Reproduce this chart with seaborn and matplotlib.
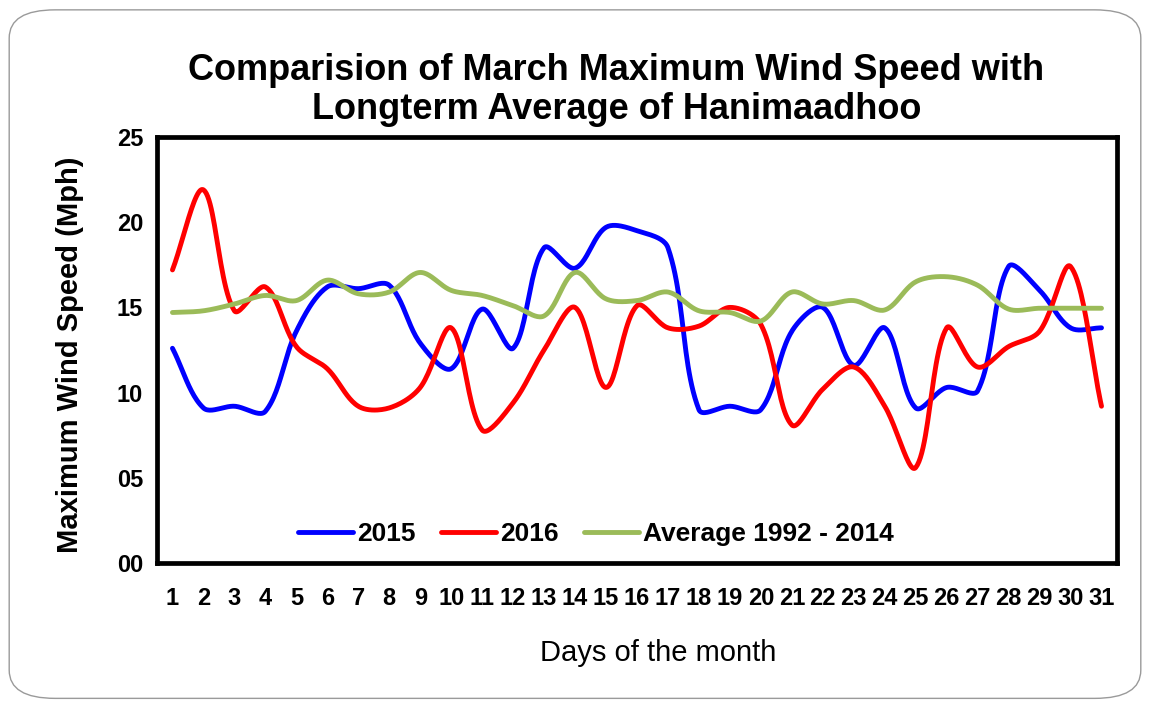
import numpy as np
import pandas as pd
import matplotlib.pyplot as plt
import seaborn as sns
from matplotlib.patches import FancyBboxPatch

days = list(range(1, 32))
wind_2015 = [12.6, 9.1, 9.2, 8.9, 13.6, 16.2, 16.1, 16.3, 12.9, 11.4,
             14.9, 12.6, 18.5, 17.3, 19.7, 19.5, 18.5, 9.0, 9.2, 9.0,
             13.6, 15.0, 11.6, 13.8, 9.1, 10.3, 10.1, 17.4, 16.0, 13.8, 13.8]
wind_2016 = [17.2, 21.9, 14.8, 16.2, 12.7, 11.4, 9.2, 9.1, 10.3, 13.8,
             7.8, 9.4, 12.5, 15.0, 10.3, 15.1, 13.8, 13.9, 15.0, 14.0,
             8.1, 10.2, 11.5, 9.2, 5.6, 13.8, 11.5, 12.7, 13.6, 17.4, 9.2]
avg_1992_2014 = [14.7, 14.8, 15.2, 15.7, 15.4, 16.6, 15.8, 15.9, 17.05, 16.0,
                 15.7, 15.1, 14.5, 17.05, 15.5, 15.4, 15.9, 14.8, 14.7, 14.2,
                 15.9, 15.2, 15.4, 14.85, 16.5, 16.8, 16.3, 14.9, 14.95, 14.95, 14.95]
series_names = ["2015", "2016", "Average 1992 - 2014"]
colors = ["#0000FF", "#FF0000", "#9BBB59"]
y_ticks = [0, 5, 10, 15, 20, 25]
y_tick_labels = ["00", "05", "10", "15", "20", "25"]


def smooth_curve(x, y, steps=24, sx=31.0, sy=17.0):
    # Excel-like smoothed line: Bezier with tangents scaled by segment length
    x = np.asarray(x, float)
    y = np.asarray(y, float)
    pts = np.column_stack([x, y])
    scale = np.array([sx, sy])
    n = len(pts)
    seg = np.linalg.norm(np.diff(pts * scale, axis=0), axis=1)
    t = np.linspace(0, 1, steps, endpoint=False)[:, None]
    out = []
    for i in range(n - 1):
        p0, p3 = pts[i], pts[i + 1]
        if i > 0:
            w = seg[i] / (seg[i - 1] + seg[i])
            p1 = p0 + (pts[i + 1] - pts[i - 1]) * w / 3
        else:
            p1 = p0 + (p3 - p0) / 3
        if i + 2 < n:
            w = seg[i] / (seg[i] + seg[i + 1])
            p2 = p3 - (pts[i + 2] - pts[i]) * w / 3
        else:
            p2 = p3 - (p3 - p0) / 3
        b = (1 - t) ** 3 * p0 + 3 * (1 - t) ** 2 * t * p1 + 3 * (1 - t) * t ** 2 * p2 + t ** 3 * p3
        out.append(b)
    out.append(pts[-1:])
    out = np.vstack(out)
    return out[:, 0], out[:, 1]


frames = []
for name, vals in zip(series_names, [wind_2015, wind_2016, avg_1992_2014]):
    cx, cy = smooth_curve(days, vals)
    frames.append(pd.DataFrame({"Day": cx, "Speed": cy, "Series": name}))
df = pd.concat(frames, ignore_index=True)

sns.set_style("white")
plt.rcParams["font.family"] = ["Liberation Sans", "DejaVu Sans"]
plt.rcParams["text.color"] = "black"
plt.rcParams["axes.labelcolor"] = "black"

fig = plt.figure(figsize=(11.5, 7.04), dpi=100)
fig.patches.append(FancyBboxPatch((0.008, 0.008), 0.984, 0.978,
                                  boxstyle="round,pad=0,rounding_size=0.04",
                                  transform=fig.transFigure, fill=False,
                                  edgecolor="#9a9a9a", linewidth=1.0))
ax = fig.add_axes([0.1365, 0.2003, 0.8348, 0.6051])

sns.lineplot(data=df, x="Day", y="Speed", hue="Series", palette=colors,
             sort=False, estimator=None, linewidth=3.5, ax=ax, legend=False)

ax.set_xlim(0.5, 31.5)
ax.set_ylim(0, 25)
ax.set_xticks(days)
ax.set_xticklabels([str(d) for d in days], fontsize=17, fontweight="bold")
ax.set_xticks(np.arange(0.5, 32, 1), minor=True)
ax.tick_params(axis="x", which="major", length=0, pad=17, labelcolor="black")
ax.tick_params(axis="x", which="minor", length=6, color="#808080", width=1, direction="out")
ax.set_yticks(y_ticks)
ax.set_yticklabels(y_tick_labels, fontsize=17, fontweight="bold")
ax.tick_params(axis="y", length=5, color="#808080", width=1, direction="out", pad=5,
               labelcolor="black")
for s in ax.spines.values():
    s.set_linewidth(3.4)
    s.set_color("black")

ax.set_xlabel("Days of the month", fontsize=21)
ax.xaxis.set_label_coords(0.522, -0.211)
ax.xaxis.label.set_verticalalignment("center")
ax.set_ylabel("Maximum Wind Speed (Mph)", fontsize=21, fontweight="bold")
ax.yaxis.set_label_coords(-0.0906, 0.49)
ax.yaxis.label.set_verticalalignment("center")

fig.text(0.536, 0.872, "Comparision of March Maximum Wind Speed with\nLongterm Average of Hanimaadhoo",
         ha="center", va="center", fontsize=26, fontweight="bold", linespacing=1.16)

handles = [plt.Line2D([], [], color=c, linewidth=3.5) for c in colors]
ax.legend(handles, series_names, loc="center", bbox_to_anchor=(0.457, 0.068),
          ncol=3, frameon=False, handlelength=2.1, handletextpad=0.15,
          columnspacing=0.95, prop={"size": 19, "weight": "bold"})

fig.savefig("out.png", dpi=100)
